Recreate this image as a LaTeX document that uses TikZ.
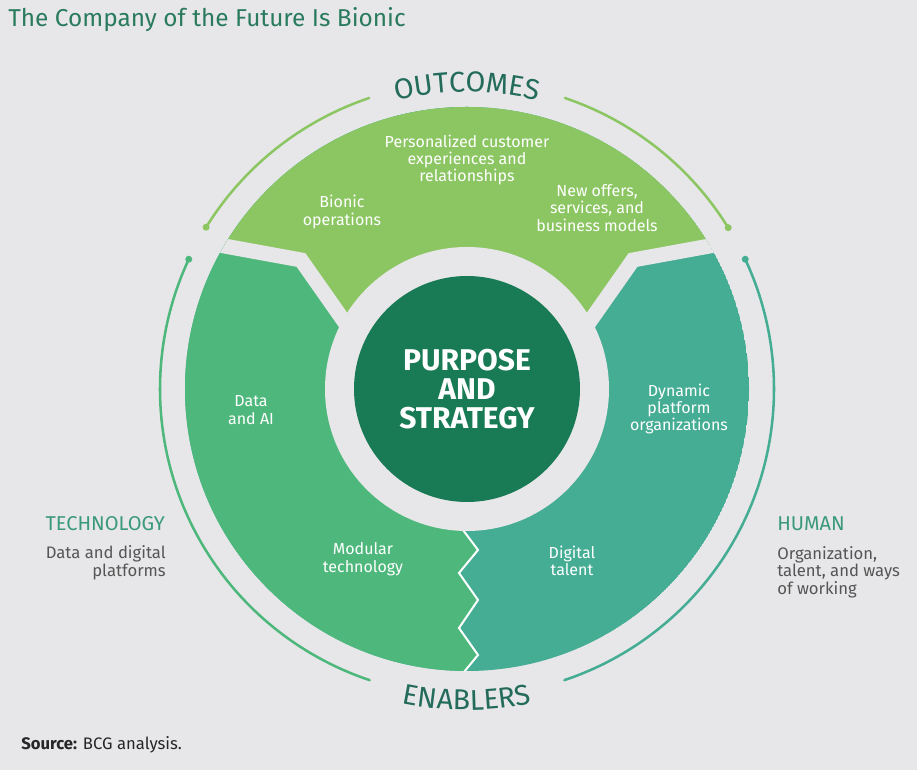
\documentclass[tikz,border=0pt]{standalone}
\usepackage{fontspec}
\setmainfont{Fira Sans}
\usetikzlibrary{calc,decorations.text}
\definecolor{bg}{HTML}{E7E7E9}
\definecolor{topg}{HTML}{8CC663}
\definecolor{leftg}{HTML}{4EB87C}
\definecolor{rightg}{HTML}{45AD94}
\definecolor{core}{HTML}{197A56}
\definecolor{titlec}{HTML}{2A7B5E}
\definecolor{labelc}{HTML}{236B5A}
\definecolor{catc}{HTML}{3A997B}
\definecolor{notec}{HTML}{555555}
\tikzset{
  body/.style={text=white, align=center, inner sep=0pt, font=\fontsize{12}{13.1}\selectfont},
  cat/.style={text=catc, inner sep=0pt, font=\fontsize{15}{16}\selectfont},
  note/.style={text=notec, inner sep=0pt, font=\fontsize{12.5}{13.1}\selectfont},
  ringarc/.style={line width=1.9pt, line cap=round},
  gapline/.style={draw=bg, line width=11.25pt, line join=miter},
}
\begin{document}
\begin{tikzpicture}[x=0.75pt,y=0.75pt]
\fill[bg] (0,0) rectangle (917,770);
\useasboundingbox (0,0) rectangle (917,770);
\coordinate (C) at (467,381);

% main ring segments
\begin{scope}
  \clip (C) circle[radius=282];
  \fill[rightg] (C) circle[radius=282];
  \fill[leftg] (467,381) -- (463,250) -- (463,240) -- (478,220) -- (459,197) -- (478,170) -- (459,142) -- (478,115) -- (464,98) -- (455,87) -- (455,40) -- (100,40) -- (100,720) -- (467,720) -- cycle;
  \draw[white, line width=1.5pt, line join=miter] (463,250) -- (463,240) -- (478,220) -- (459,197) -- (478,170) -- (459,142) -- (478,115) -- (464,98) -- (455,87);
  \fill[topg] (195,529.4) -- (301,510) -- (351,439) -- (467,381) -- (583,439) -- (633,510) -- (739,529.4) -- (739,720) -- (195,720) -- cycle;
  \draw[gapline] (185,531.2) -- (301,510) -- (360,426);
  \draw[gapline] (749,531.2) -- (633,510) -- (574,426);
\end{scope}
\fill[bg] (C) circle[radius=142];
\node (core) [circle, fill=core, minimum size=169.5pt, inner sep=0pt, align=center, text=white,
  font=\bfseries\fontsize{22.5}{22}\selectfont] at (C) {PURPOSE\\AND\\STRATEGY};

% outer thin arcs
\draw[ringarc, topg] ($(C)+(148.2:307)$) arc[start angle=148.2, end angle=108.6, radius=307];
\draw[ringarc, topg] ($(C)+(71.4:307)$) arc[start angle=71.4, end angle=31.7, radius=307];
\draw[ringarc, leftg] ($(C)+(155:307)$) arc[start angle=155, end angle=251.5, radius=307];
\draw[ringarc, rightg] ($(C)+(-71.5:307)$) arc[start angle=-71.5, end angle=25, radius=307];
\fill[topg] ($(C)+(148.2:307)$) circle[radius=3.5];
\fill[topg] ($(C)+(31.7:307)$) circle[radius=3.5];
\fill[leftg] ($(C)+(155:307)$) circle[radius=3.5];
\fill[rightg] ($(C)+(25:307)$) circle[radius=3.5];

% curved labels
\path[decorate, decoration={text along path, text align=center, text color=labelc,
  text={|\fontsize{21.5}{24}\selectfont|OUTCOMES}}]
  ($(C)+(112:297)$) arc[start angle=112, end angle=68, radius=297];
\path[decorate, decoration={text along path, text align=center, text color=labelc,
  text={|\fontsize{21.5}{24}\selectfont|ENABLERS}}]
  ($(C)+(248:321)$) arc[start angle=248, end angle=292, radius=321];

% segment texts
\node (pcx) [body] at (467,610) {Personalized customer\\experiences and\\relationships};
\node (bio) [body] at (342,558) {Bionic\\operations};
\node (nos) [body] at (597,562) {New offers,\\services, and\\business models};
\node (dai) [body] at (251,360) {Data\\and AI};
\node (dpo) [body] at (679,361) {Dynamic\\platform\\organizations};
\node (mod) [body] at (363,211) {Modular\\technology};
\node (dtl) [body] at (572,209) {Digital\\talent};

% side texts
\node (tech) [cat, anchor=east] at (165,246) {TECHNOLOGY};
\node (technote) [note, anchor=east, align=right] at (166,207) {Data and digital\\platforms};
\node (hum) [cat, anchor=west] at (777,246) {HUMAN};
\node (humnote) [note, anchor=west, align=left] at (777,198) {Organization,\\talent, and ways\\of working};

% title and source
\node (title) [anchor=west, inner sep=0pt, text=titlec, font=\fontsize{18.3}{21}\selectfont] at (8,750) {The Company of the Future Is Bionic};
\node (src) [anchor=west, inner sep=0pt, text=black!85, font=\fontsize{12.5}{14}\selectfont] at (21,25) {\textbf{Source:} BCG analysis.};
\end{tikzpicture}
\end{document}
